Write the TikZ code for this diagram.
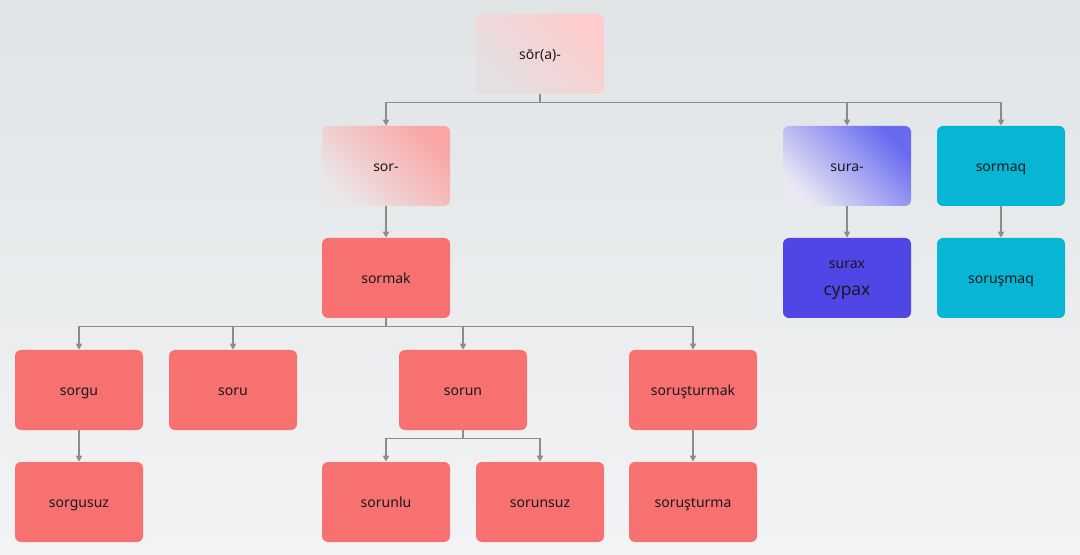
\documentclass[tikz,border=0pt]{standalone}
\usepackage{fontspec}
\setmainfont{Noto Sans}
\usetikzlibrary{arrows.meta}
\definecolor{bgtop}{RGB}{224,228,230}
\definecolor{bgbottom}{RGB}{242,243,244}
\definecolor{salmon}{HTML}{F87171}
\definecolor{cyanbox}{HTML}{06B6D4}
\definecolor{indigobox}{HTML}{4F46E5}
\definecolor{linkgray}{RGB}{140,140,140}
\definecolor{textdark}{RGB}{24,24,27}

\begin{document}
\begin{tikzpicture}[x=0.75pt, y=-0.75pt,
  word/.style={rectangle, rounded corners=4.5pt, minimum width=96pt, minimum height=60pt,
    text=textdark, text height=0.9em, text depth=0.1em, font=\fontsize{10.5}{12}\selectfont},
  redword/.style={word, fill=salmon},
  cyanword/.style={word, fill=cyanbox},
  link/.style={draw=linkgray, line width=1pt, -{Triangle[width=4.5pt,length=4.5pt]}}]
  \shade[top color=bgtop, bottom color=bgbottom] (0,0) rectangle (1080,555);
  % roots
  \node[word, top color={rgb,255:red,254;green,204;blue,204}, bottom color={rgb,255:red,228;green,224;blue,225}, shading angle=-45] (sora) at (540,54) {sōr(a)-};
  \node[word, top color={rgb,255:red,250;green,166;blue,166}, bottom color={rgb,255:red,234;green,230;blue,231}, shading angle=-45] (sor) at (386,166) {sor-};
  \node[word, top color={rgb,255:red,104;green,106;blue,240}, bottom color={rgb,255:red,232;green,232;blue,242}, shading angle=-45] (sura) at (847,166) {sura-};
  \node[cyanword] (sormaq) at (1001,166) {sormaq};
  % second level
  \node[word, fill=indigobox, text height=, text depth=0pt, align=center] (surax) at (847,278) {surax\\[8pt]{\fontsize{13}{14}\selectfont cypax}};
  \node[redword] (sormak) at (386,278) {sormak};
  \node[cyanword] (sorusmaq) at (1001,278) {soruşmaq};
  % derived words
  \node[redword] (sorgu) at (79,390) {sorgu};
  \node[redword] (soru) at (233,390) {soru};
  \node[redword] (sorun) at (463,390) {sorun};
  \node[redword] (sorusturmak) at (693,390) {soruşturmak};
  \node[redword] (sorgusuz) at (79,502) {sorgusuz};
  \node[redword] (sorunlu) at (386,502) {sorunlu};
  \node[redword] (sorunsuz) at (540,502) {sorunsuz};
  \node[redword] (sorusturma) at (693,502) {soruşturma};
  % links
  \draw[link] (sora.south) -- ++(0,8) -| (sor.north);
  \draw[link] (sora.south) -- ++(0,8) -| (sura.north);
  \draw[link] (sora.south) -- ++(0,8) -| (sormaq.north);
  \draw[link] (sor.south) -- (sormak.north);
  \draw[link] (sura.south) -- (surax.north);
  \draw[link] (sormaq.south) -- (sorusmaq.north);
  \draw[link] (sormak.south) -- ++(0,8) -| (sorgu.north);
  \draw[link] (sormak.south) -- ++(0,8) -| (soru.north);
  \draw[link] (sormak.south) -- ++(0,8) -| (sorun.north);
  \draw[link] (sormak.south) -- ++(0,8) -| (sorusturmak.north);
  \draw[link] (sorgu.south) -- (sorgusuz.north);
  \draw[link] (sorun.south) -- ++(0,8) -| (sorunlu.north);
  \draw[link] (sorun.south) -- ++(0,8) -| (sorunsuz.north);
  \draw[link] (sorusturmak.south) -- (sorusturma.north);
\end{tikzpicture}
\end{document}
